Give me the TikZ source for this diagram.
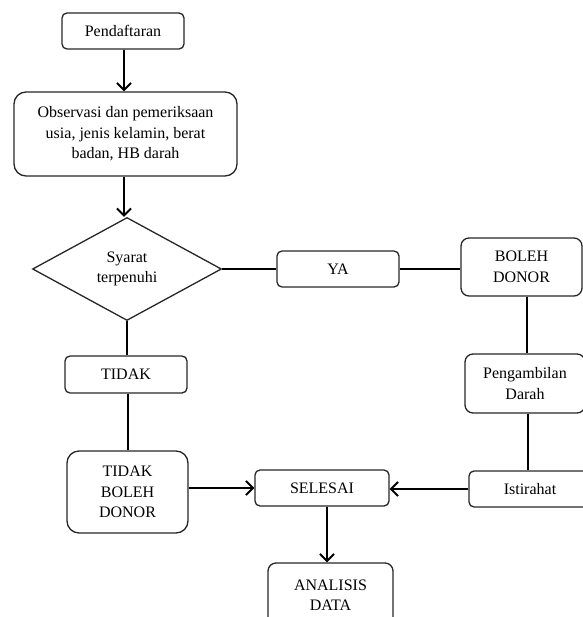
\documentclass[tikz,border=0pt]{standalone}
\usepackage{fontspec}
\setmainfont{Liberation Serif}
\usetikzlibrary{shapes.geometric,arrows.meta}
\begin{document}
\begin{tikzpicture}[x=1pt,y=-1pt,
  every node/.style={font=\fontsize{16}{20.5}\selectfont, text=black},
  box/.style={draw=black!85, line width=1.3pt, rounded corners=5pt, align=center, inner sep=2pt},
  bigbox/.style={box, rounded corners=12pt},
  conn/.style={line width=2pt, black},
  arr/.style={conn, -{Straight Barb[length=7pt,width=14pt]}}]
\useasboundingbox (0,0) rectangle (582,617);
\node[box, minimum width=122pt, minimum height=36pt] (pend) at (123,31) {Pendaftaran};
\node[bigbox, minimum width=223pt, minimum height=84pt] (obs) at (125.5,134)
  {Observasi dan pemeriksaan\\usia, jenis kelamin, berat\\badan, HB darah};
\node[diamond, draw=black!85, line width=1.3pt, align=center, minimum width=189pt, minimum height=103pt, shape aspect=1.83, inner sep=0pt] (dia) at (127,269) {Syarat\\terpenuhi};
\node[box, minimum width=122pt, minimum height=36pt] (ya) at (338,269) {YA};
\node[box, rounded corners=8pt, minimum width=121pt, minimum height=58pt] (boleh) at (521.5,267) {BOLEH\\DONOR};
\node[box, rounded corners=8pt, minimum width=120pt, minimum height=59pt] (peng) at (525,383.5) {Pengambilan\\Darah};
\node[box, minimum width=122pt, minimum height=36pt] (ist) at (530,489) {Istirahat};
\node[box, minimum width=122pt, minimum height=37pt] (tidak) at (126,374.5) {TIDAK};
\node[bigbox, minimum width=121pt, minimum height=82pt] (tbd) at (127.5,492) {TIDAK\\BOLEH\\DONOR};
\node[box, minimum width=134pt, minimum height=36pt] (sel) at (322,488) {SELESAI};
\node[box, rounded corners=8pt, minimum width=125pt, minimum height=64pt] (ana) at (330.5,595) {ANALISIS\\DATA};
\coordinate (cx) at (124,0);
\coordinate (lx) at (128,0);
\coordinate (rx) at (527,0);
\coordinate (rxb) at (528,0);
\coordinate (dx) at (327,0);
\draw[arr] (pend.south -| cx) -- (obs.north -| cx);
\draw[arr] (obs.south -| cx) -- (dia.north -| cx);
\draw[conn] (dia.east) -- (ya.west);
\draw[conn] (ya.east) -- (ya.east -| boleh.west);
\draw[conn] (boleh.south -| rx) -- (peng.north -| rx);
\draw[conn] (peng.south -| rxb) -- (ist.north -| rxb);
\draw[arr] (ist.west) -- (ist.west -| sel.east);
\draw[conn] (dia.south) -- (dia.south |- tidak.north);
\draw[conn] (tidak.south -| lx) -- (tbd.north -| lx);
\draw[arr] (sel.west -| tbd.east) -- (sel.west);
\draw[arr] (sel.south -| dx) -- (ana.north -| dx);
\end{tikzpicture}
\end{document}
